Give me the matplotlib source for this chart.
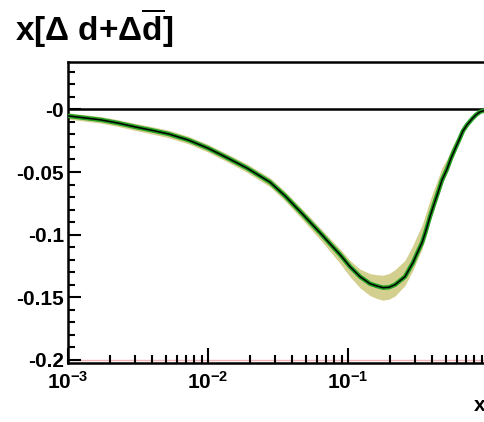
import matplotlib
matplotlib.use('Agg')
import matplotlib.pyplot as plt
from matplotlib.ticker import FixedLocator, FixedFormatter, LogLocator, NullFormatter

plt.rcParams['font.family'] = ['Liberation Sans', 'DejaVu Sans']
plt.rcParams['font.weight'] = 'bold'
plt.rcParams['mathtext.fontset'] = 'custom'
plt.rcParams['mathtext.rm'] = 'Liberation Sans:bold'
plt.rcParams['mathtext.it'] = 'Liberation Sans:bold'
plt.rcParams['mathtext.bf'] = 'Liberation Sans:bold'

# central curve x*(Delta d + Delta dbar) (log10 x, value)
log_x = [-3.0, -2.764, -2.64, -2.52, -2.41, -2.286, -2.14, -2.0, -1.857, -1.721,
         -1.557, -1.45, -1.321, -1.25, -1.179, -1.129, -1.057, -0.986, -0.914, -0.843,
         -0.793, -0.75, -0.707, -0.664, -0.593, -0.536, -0.507, -0.471, -0.443, -0.414,
         -0.386, -0.357, -0.329, -0.293, -0.264, -0.236, -0.207, -0.179, -0.15, -0.114,
         -0.086, -0.057, 0.0]
y_vals = [-0.0052, -0.0084, -0.011, -0.014, -0.0165, -0.0195, -0.0245, -0.031, -0.039, -0.0469,
          -0.0581, -0.069, -0.084, -0.0925, -0.101, -0.1072, -0.1159, -0.1255, -0.1335, -0.1391,
          -0.141, -0.1423, -0.142, -0.1399, -0.1335, -0.1223, -0.115, -0.1063, -0.0966, -0.0854,
          -0.0758, -0.0662, -0.0565, -0.0477, -0.0389, -0.0317, -0.0245, -0.0172, -0.0124, -0.0076,
          -0.0044, -0.002, 0.0]
# uncertainty band (towards zero / away from zero)
err_up = [0.0025, 0.0026, 0.0027, 0.0028, 0.0029, 0.003, 0.003, 0.0031, 0.0032, 0.0033,
          0.0035, 0.0036, 0.0038, 0.004, 0.004, 0.0042, 0.0045, 0.005, 0.006, 0.008,
          0.009, 0.010, 0.011, 0.012, 0.013, 0.014, 0.014, 0.014, 0.014, 0.013,
          0.012, 0.011, 0.010, 0.008, 0.007, 0.006, 0.0045, 0.0035, 0.0025, 0.0018,
          0.0012, 0.0006, 0.0]
err_dn = [0.0025, 0.0026, 0.0027, 0.0028, 0.0029, 0.003, 0.003, 0.0031, 0.0032, 0.0034,
          0.0037, 0.004, 0.0045, 0.005, 0.0055, 0.006, 0.007, 0.008, 0.009, 0.0095,
          0.010, 0.010, 0.0095, 0.009, 0.007, 0.006, 0.0055, 0.005, 0.0045, 0.004,
          0.004, 0.0035, 0.0035, 0.003, 0.003, 0.0025, 0.002, 0.002, 0.0015, 0.0012,
          0.0008, 0.0005, 0.0]

y_ticks = [0.0, -0.05, -0.1, -0.15, -0.2]
y_labels = ['-0', '-0.05', '-0.1', '-0.15', '-0.2']
x_ticks = [1e-3, 1e-2, 1e-1]
x_labels = [r'$10^{-3}$', r'$10^{-2}$', r'$10^{-1}$']

x_vals = [10 ** v for v in log_x]

fig = plt.figure(figsize=(4.85, 4.22), dpi=100)
ax = fig.add_axes([68/485, 1-363/422, 420/485, 301/422])

lo = [y - d for y, d in zip(y_vals, err_dn)]
hi = [y + u for y, u in zip(y_vals, err_up)]
ax.fill_between(x_vals, lo, hi, color='#d3cf8f', lw=0, zorder=2)
ax.plot(x_vals, y_vals, color='#22a022', lw=3.2, zorder=3, solid_capstyle='round',
        solid_joinstyle='round')
ax.plot(x_vals, y_vals, color='black', lw=1.1, zorder=4, solid_joinstyle='round')
ax.axhline(0, color='black', lw=1.8, zorder=1)
ax.axhline(-0.2, color='#f2b4b4', lw=1.0, zorder=1)

ax.set_xscale('log')
ax.set_xlim(1e-3, 1)
ax.set_ylim(-0.2024, 0.0378)

ax.yaxis.set_major_locator(FixedLocator(y_ticks))
ax.yaxis.set_major_formatter(FixedFormatter(y_labels))
ax.yaxis.set_minor_locator(FixedLocator([i * 0.01 for i in range(-20, 4)]))
ax.xaxis.set_major_locator(FixedLocator(x_ticks))
ax.xaxis.set_major_formatter(FixedFormatter(x_labels))
ax.xaxis.set_minor_locator(LogLocator(base=10, subs=range(2, 10)))
ax.xaxis.set_minor_formatter(NullFormatter())

ax.tick_params(axis='both', which='both', direction='in', top=False, right=False, width=1.5)
ax.tick_params(axis='y', which='major', length=9, pad=3, labelsize=15)
ax.tick_params(axis='y', which='minor', length=5)
ax.tick_params(axis='x', which='major', length=11, pad=6, labelsize=15)
ax.tick_params(axis='x', which='minor', length=6)
for s in ax.spines.values():
    s.set_linewidth(1.8)

fig.text(15/485, 1-41/422, r'x[$\Delta$ d+$\Delta\overline{\mathrm{d}}$]', fontsize=24,
         fontweight='bold', ha='left', va='baseline')
fig.text(474/485, 1-411/422, 'x', fontsize=15, fontweight='bold', ha='left', va='baseline')

fig.savefig('out.png', dpi=100)
